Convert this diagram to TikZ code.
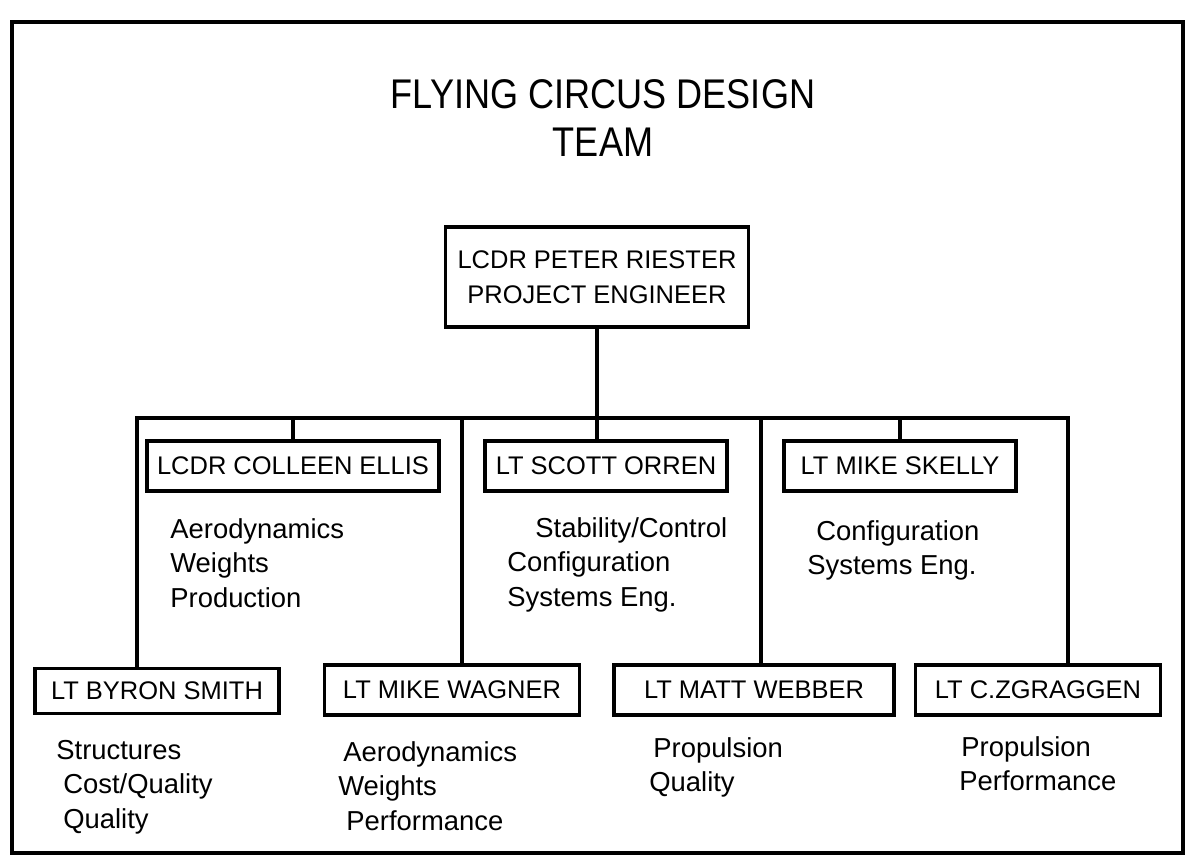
\documentclass[tikz,border=0pt]{standalone}
\usepackage{fontspec}
\setmainfont{Liberation Sans}
\newfontfamily\titlefont[FakeStretch=0.87]{Liberation Sans}

\begin{document}
\begin{tikzpicture}[x=0.2mm, y=-0.2mm,
	member/.style={draw, line width=1.8pt, inner xsep=0.3mm, inner ysep=0pt, align=center, font=\fontsize{14.5}{19.9}\selectfont},
	duty/.style={anchor=north west, inner sep=0pt, align=left, font=\fontsize{15.6}{19.6}\selectfont},
	link/.style={line width=1.8pt}]
	\useasboundingbox (0,0) rectangle (1189,866);
	\draw[link] (12,22) rectangle (1183,853);
	\node[anchor=north, inner sep=0pt, align=center, font=\titlefont\fontsize{23.6}{27.3}\selectfont] (title) at (603,79) {FLYING CIRCUS DESIGN\\TEAM};
	\node[member, minimum width=60.6mm, minimum height=20mm] (lead) at (597,277) {LCDR PETER RIESTER\\PROJECT ENGINEER};
	\node[member, minimum width=58.4mm, minimum height=10mm] (ellis) at (293,466) {LCDR COLLEEN ELLIS};
	\node[member, minimum width=48.4mm, minimum height=10mm] (orren) at (606,466) {LT SCOTT ORREN};
	\node[member, minimum width=46.4mm, minimum height=10mm] (skelly) at (900,466) {LT MIKE SKELLY};
	\node[member, minimum width=48.8mm, minimum height=9mm] (byron) at (157,691) {LT BYRON SMITH};
	\node[member, minimum width=51mm, minimum height=10mm] (wagner) at (452,690) {LT MIKE WAGNER};
	\node[member, minimum width=56mm, minimum height=10mm] (webber) at (754,690) {LT MATT WEBBER};
	\node[member, minimum width=49mm, minimum height=10mm] (zgraggen) at (1038,690) {LT C.ZGRAGGEN};
	\node[duty] (ellisduty) at (170,518) {Aerodynamics\\Weights\\Production};
	\node[duty] (orrenduty) at (507,517) {\hspace*{5.6mm}Stability/Control\\Configuration\\Systems Eng.};
	\node[duty] (skellyduty) at (807,520) {\hspace*{1.8mm}Configuration\\Systems Eng.};
	\node[duty] (byronduty) at (56,740) {Structures\\\hspace*{1.4mm}Cost/Quality\\\hspace*{1.4mm}Quality};
	\node[duty] (wagnerduty) at (338,741) {\hspace*{1mm}Aerodynamics\\Weights\\\hspace*{1.6mm}Performance};
	\node[duty] (webberduty) at (649,737) {\hspace*{0.8mm}Propulsion\\Quality};
	\node[duty] (zgraggenduty) at (959,736) {\hspace*{0.4mm}Propulsion\\Performance};
	\coordinate (busl) at (137,418);
	\coordinate (busr) at (1068,418);
	\coordinate (dropw) at (462,418);
	\coordinate (dropm) at (761,418);
	\draw[link] (busl |- byron.north) -- (busl) -- (busr) -- (busr |- zgraggen.north);
	\draw[link] (lead.south) -- (lead.south |- orren.north);
	\draw[link] (ellis.north) -- (ellis.north |- busl);
	\draw[link] (skelly.north) -- (skelly.north |- busr);
	\draw[link] (dropw) -- (dropw |- wagner.north);
	\draw[link] (dropm) -- (dropm |- webber.north);
\end{tikzpicture}
\end{document}
